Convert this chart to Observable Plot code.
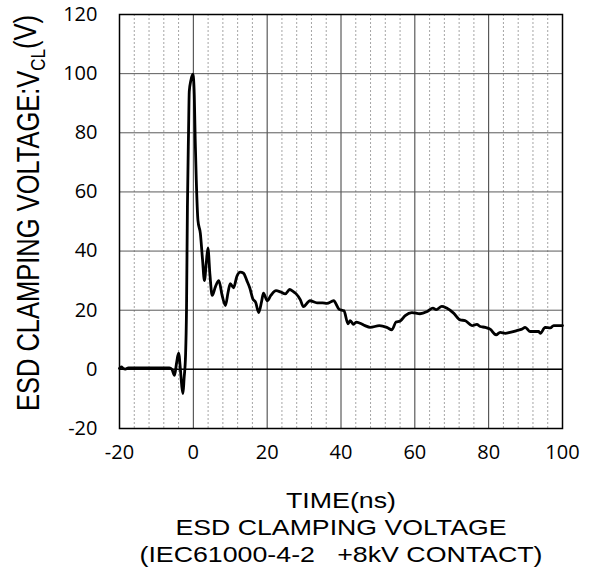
<!DOCTYPE html>
<html>
<head>
<meta charset="utf-8">
<script src="https://cdn.jsdelivr.net/npm/d3@7"></script>
<script src="https://cdn.jsdelivr.net/npm/@observablehq/plot@0.6"></script>
<style>
  html, body { margin: 0; padding: 0; background: #fff; }
  #chart svg { display: block; }
</style>
</head>
<body>
<div id="chart"></div>
<script>
// ---- data ----
const time = [
  -20, -19.5, -19.0, -18.4, -17.6, -12, -6.5, -5.8, -5.1, -4.5, -4.0, -3.5, -3.1, -2.8, -2.5, -2.1,
  -1.85, -1.6, -1.3, -1.1, -0.7, -0.1, 0.25, 0.5, 0.8, 1.25, 1.9, 2.5, 3.0, 3.5, 3.95, 4.5, 5.1,
  6.0, 6.9, 7.8, 8.7, 9.4, 10, 10.9, 11.8, 12.7, 13.6, 14.5, 15.3, 16.1, 16.9, 17.7, 18.5, 19.0,
  20.0, 21.0, 22.4, 23.6, 24.9, 26.1, 27.0, 27.8, 29.0, 29.8, 31.6, 33.5, 35.0, 36.2, 38.0, 39.5,
  40.8, 41.9, 42.5, 43.4, 44.1, 45.2, 46.5, 47.9, 50.4, 52.4, 53.8, 54.9, 56.0, 57.4, 59.2, 61.4,
  63.4, 64.9, 65.8, 67.3, 68.5, 70.5, 72.3, 73.6, 75.5, 76.8, 77.7, 79.1, 80.4, 82.0, 83.1, 84.5,
  85.8, 87.6, 89.0, 89.9, 91.2, 93.5, 94.0, 95.3, 96.7, 97.6, 100
];
const voltage = [
  0.3, 0.8, 0.3, 0.1, 0.5, 0.5, 0.5, 0.0, -2.0, 2.5, 5.5, 0.0, -6.0, -8.2, -3.0, 5.0,
  20, 55, 80, 94, 97.5, 99.8, 93, 78, 64, 50.4, 46, 37, 30, 36, 41, 32, 25,
  28, 30, 25, 21.6, 26, 29, 27.6, 31.5, 32.9, 32.5, 30, 27.5, 23.9, 22.6, 19.2, 23, 25.8,
  23.2, 25, 26.6, 26.2, 25.5, 27, 26.4, 25.6, 23.5, 21.2, 23.2, 22.5, 22.5, 22.3, 23.2, 20.3,
  19.8, 15.4, 16.5, 15.2, 16.0, 15.6, 14.8, 14.2, 14.8, 14.2, 13.4, 16.0, 16.3, 18.2, 19.2, 18.8,
  19.6, 20.7, 20.2, 21.3, 20.8, 19.0, 16.7, 16.5, 14.8, 15.2, 14.5, 14.2, 13.6, 11.7, 12.5, 12.2,
  12.5, 13.1, 13.6, 14.2, 12.8, 12.8, 12.2, 14.2, 14.0, 14.8, 14.8
];
const xTicks = [-20, 0, 20, 40, 60, 80, 100];
const yTicks = [-20, 0, 20, 40, 60, 80, 100, 120];
const xMinorGrid = [-16, -12, -8, -4, 4, 8, 12, 16, 24, 28, 32, 36, 44, 48, 52, 56, 64, 68, 72, 76, 84, 88, 92, 96];
const captionLines = ["TIME(ns)", "ESD CLAMPING VOLTAGE", "(IEC61000-4-2   +8kV CONTACT)"];
const yTitleMain = "ESD CLAMPING VOLTAGE:V";
const yTitleSub = "CL";
const yTitleEnd = "(V)";

const points = time.map((t, i) => ({t, v: voltage[i]}));

const tickFont = "Open Sans, Lato, sans-serif";
const textFont = "Liberation Sans, Arial, sans-serif";
// rendered widths of the caption lines (the reference text is drawn slightly wide)
const captionWidths = [110, 331, 403];

const chart = Plot.plot({
  width: 590,
  height: 581,
  marginLeft: 119,
  marginRight: 28,
  marginTop: 14,
  marginBottom: 153,
  style: {background: "#fff", color: "#000"},
  x: {domain: [-20, 100], axis: null},
  y: {domain: [-20, 120], axis: null},
  marks: [
    Plot.ruleX(xMinorGrid, {stroke: "#a5a5a5", strokeDasharray: "2,2", strokeWidth: 1}),
    Plot.ruleX(xTicks, {stroke: "#3a3a3a", strokeWidth: 1}),
    Plot.ruleY(yTicks, {stroke: "#5a5a5a", strokeWidth: 1}),
    Plot.ruleY([0], {stroke: "#000", strokeWidth: 1.5}),
    Plot.line(points, {x: "t", y: "v", stroke: "#000", strokeWidth: 2.8, curve: "monotone-x"}),
    Plot.frame({stroke: "#000", strokeWidth: 1.5}),
    Plot.axisX(xTicks, {tickSize: 0, tickPadding: 16, fontSize: 20, fontFamily: tickFont, label: null, tickFormat: d => String(d)}),
    Plot.axisY(yTicks, {tickSize: 0, tickPadding: 22, fontSize: 20, fontFamily: tickFont, label: null, tickFormat: d => String(d)}),
    ...captionLines.map((line, i) =>
      Plot.text([line], {frameAnchor: "bottom", lineAnchor: "middle", dy: 72 + 27 * i, fontSize: 22, fontFamily: textFont, fill: "#000", className: "cap" + i})
    )
  ]
});

const svg = d3.select(chart);
svg.selectAll("text").style("white-space", "pre");
captionWidths.forEach((w, i) => {
  svg.selectAll(".cap" + i + " text").attr("textLength", w).attr("lengthAdjust", "spacingAndGlyphs");
});

// rotated y-axis title with subscript
const yt = svg.append("text")
  .attr("transform", "translate(39,213) scale(1.2,1) rotate(-90)")
  .attr("text-anchor", "middle")
  .attr("font-family", textFont)
  .attr("font-size", 25.5)
  .attr("fill", "#000");
yt.append("tspan").text(yTitleMain);
yt.append("tspan").attr("font-size", 17).attr("dy", "0.3em").text(yTitleSub);
yt.append("tspan").attr("dy", "-0.3em").text(yTitleEnd);

document.getElementById("chart").append(chart);
</script>
</body>
</html>
